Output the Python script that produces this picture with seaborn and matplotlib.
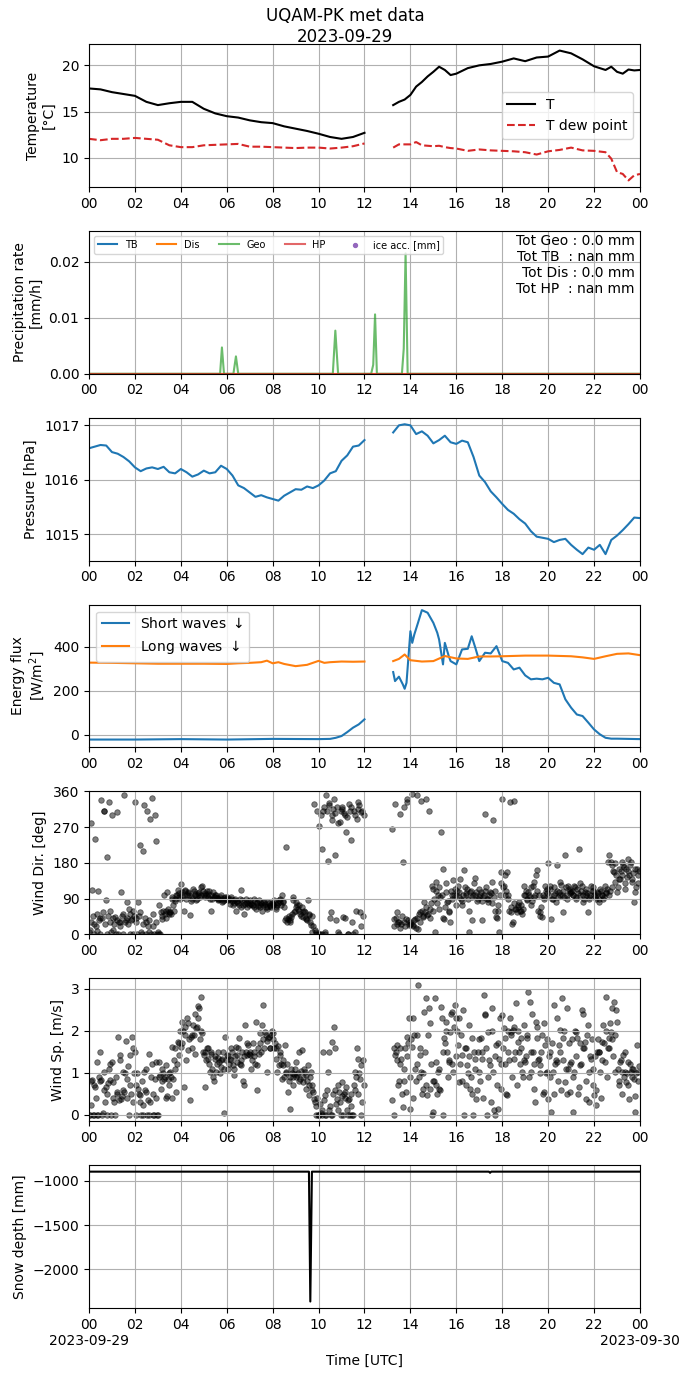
import numpy as np
import pandas as pd
import matplotlib
matplotlib.use('Agg')
import matplotlib.pyplot as plt
import matplotlib.dates as mdates
import seaborn as sns

nan = np.nan
day0 = pd.Timestamp('2023-09-29')
day1 = pd.Timestamp('2023-09-30')

# ---- temperature / dew point (hours UTC) ----
t_am_hours = [0, 0.5, 1, 1.5, 2, 2.5, 3, 3.5, 4, 4.5, 5, 5.5, 6, 6.5, 7, 7.5,
              8, 8.5, 9, 9.5, 10, 10.5, 11, 11.5, 12]
temp_am = [17.5, 17.4, 17.1, 16.9, 16.7, 16.05, 15.7, 15.9, 16.05, 16.05, 15.3,
           14.8, 14.5, 14.35, 14.05, 13.85, 13.75, 13.4, 13.15, 12.9, 12.6,
           12.25, 12.05, 12.25, 12.7]
dew_am = [12.05, 11.9, 12.05, 12.05, 12.15, 12.05, 11.95, 11.35, 11.15, 11.15,
          11.35, 11.4, 11.45, 11.5, 11.2, 11.2, 11.15, 11.1, 11.05, 11.1, 11.1,
          11.0, 11.1, 11.25, 11.55]
t_pm_hours = [13.25, 13.5, 13.75, 14, 14.25, 14.5, 14.75, 15, 15.25, 15.5, 15.75,
              16, 16.5, 17, 17.5, 18, 18.5, 19, 19.5, 20, 20.5, 21, 21.5, 22,
              22.5, 22.75, 23, 23.25, 23.5, 23.75, 24]
temp_pm = [15.7, 16.05, 16.3, 16.8, 17.7, 18.2, 18.8, 19.3, 19.85, 19.5, 18.95,
           19.1, 19.7, 20.0, 20.15, 20.4, 20.75, 20.45, 20.85, 20.95, 21.6, 21.3,
           20.65, 19.9, 19.5, 19.85, 19.3, 19.1, 19.55, 19.45, 19.5]
dew_pm = [11.1, 11.45, 11.45, 11.45, 11.7, 11.35, 11.3, 11.25, 11.3, 11.15, 11.05,
          11.0, 10.75, 10.9, 10.8, 10.75, 10.7, 10.6, 10.35, 10.7, 10.85, 11.1,
          10.8, 10.75, 10.6, 9.9, 8.45, 8.25, 7.55, 8.1, 8.25]

# ---- precipitation rate [mm/h] ----
geo_hours = [0, 5.71, 5.79, 5.88, 6.29, 6.4, 6.5, 10.62, 10.73, 10.85, 12.29,
             12.38, 12.46, 12.54, 13.63, 13.71, 13.79, 13.88, 24]
geo_rate = [0, 0, 0.0047, 0, 0, 0.0031, 0, 0, 0.0077, 0, 0, 0.0016, 0.0106, 0,
            0, 0.0045, 0.0215, 0, 0]
flat_hours = [0, 24]
dis_rate = [0, 0]
hp_rate = [0, 0]
precip_text = "Tot Geo : 0.0 mm\nTot TB  : nan mm\nTot Dis : 0.0 mm\nTot HP  : nan mm"

# ---- pressure [hPa], every 15 min ----
p_am_hours = [0, 0.25, 0.5, 0.75, 1, 1.25, 1.5, 1.75, 2, 2.25, 2.5, 2.75, 3, 3.25,
              3.5, 3.75, 4, 4.25, 4.5, 4.75, 5, 5.25, 5.5, 5.75, 6, 6.25, 6.5,
              6.75, 7, 7.25, 7.5, 7.75, 8, 8.25, 8.5, 8.75, 9, 9.25, 9.5, 9.75,
              10, 10.25, 10.5, 10.75, 11, 11.25, 11.5, 11.75, 12]
pres_am = [1016.58, 1016.61, 1016.64, 1016.63, 1016.51, 1016.48, 1016.42, 1016.34,
           1016.23, 1016.16, 1016.21, 1016.23, 1016.2, 1016.24, 1016.14, 1016.12,
           1016.2, 1016.14, 1016.06, 1016.1, 1016.17, 1016.12, 1016.14, 1016.26,
           1016.2, 1016.08, 1015.9, 1015.85, 1015.77, 1015.69, 1015.72, 1015.68,
           1015.65, 1015.62, 1015.71, 1015.77, 1015.83, 1015.82, 1015.88, 1015.85,
           1015.9, 1015.99, 1016.12, 1016.16, 1016.35, 1016.45, 1016.61, 1016.63,
           1016.73]
p_pm_hours = [13.25, 13.5, 13.75, 14, 14.25, 14.5, 14.75, 15, 15.25, 15.5, 15.75,
              16, 16.25, 16.5, 16.75, 17, 17.25, 17.5, 17.75, 18, 18.25, 18.5,
              18.75, 19, 19.25, 19.5, 19.75, 20, 20.25, 20.5, 20.75, 21, 21.25,
              21.5, 21.75, 22, 22.25, 22.5, 22.75, 23, 23.25, 23.5, 23.75, 24]
pres_pm = [1016.87, 1017.0, 1017.02, 1017.0, 1016.84, 1016.89, 1016.81, 1016.67,
           1016.73, 1016.81, 1016.69, 1016.66, 1016.72, 1016.69, 1016.42, 1016.08,
           1015.96, 1015.79, 1015.68, 1015.56, 1015.45, 1015.38, 1015.28, 1015.2,
           1015.06, 1014.96, 1014.94, 1014.92, 1014.86, 1014.9, 1014.92, 1014.81,
           1014.72, 1014.64, 1014.76, 1014.72, 1014.81, 1014.64, 1014.9, 1014.98,
           1015.08, 1015.19, 1015.31, 1015.3]

# ---- radiation [W/m2] ----
sw_am_hours = [0, 2, 4, 6, 8, 10, 10.5, 10.75, 11, 11.25, 11.5, 11.75, 12]
sw_am = [-22, -22, -20, -22, -19, -20, -19, -14, -6, 12, 32, 47, 70]
sw_pm_hours = [13.25, 13.33, 13.5, 13.67, 13.75, 13.83, 14, 14.08, 14.17, 14.33,
               14.5, 14.75, 15, 15.17, 15.25, 15.42, 15.5, 15.67, 15.75, 16,
               16.25, 16.5, 16.67, 16.83, 17, 17.25, 17.5, 17.75, 18, 18.25,
               18.5, 18.75, 19, 19.25, 19.5, 19.75, 20, 20.25, 20.5, 20.75, 21,
               21.25, 21.5, 21.75, 22, 22.25, 22.5, 22.75, 23, 24]
sw_pm = [285, 244, 264, 229, 209, 236, 471, 418, 456, 509, 567, 555, 509, 464,
         433, 320, 418, 358, 335, 320, 388, 391, 448, 395, 335, 373, 370, 403,
         335, 327, 297, 305, 270, 252, 255, 252, 259, 236, 229, 161, 123, 92,
         85, 55, 24, 2, -14, -18, -18, -20]
lw_am_hours = [0, 1, 2, 3, 4, 5, 6, 6.5, 7, 7.5, 7.75, 8, 8.25, 8.5, 9, 9.5, 10,
               10.25, 10.5, 11, 11.5, 12]
lw_am = [328, 327, 325, 323, 323, 323, 322, 325, 327, 330, 337, 325, 330, 322,
         312, 318, 336, 327, 330, 333, 332, 333]
lw_pm_hours = [13.25, 13.5, 13.75, 14, 14.5, 15, 15.5, 16, 16.5, 17, 17.5, 18, 19,
               20, 21, 21.5, 22, 22.5, 23, 23.5, 24]
lw_pm = [335, 345, 365, 339, 333, 335, 358, 347, 345, 356, 356, 357, 360, 360,
         357, 352, 345, 357, 368, 370, 362]

# ---- wind, one row per hour, one value every 4 min (set a at :00, set b at :02) ----
wdir_rows_a = [
    [5, 280, 111, 25, 239, 8, 108, 40, 338, 55, 312, 86, 195, 333, 60],
    [300, 10, 44, 308, 2, 31, 107, 52, 350, 35, 81, 65, 0, 39, 60],
    [333, 40, 81, 224, 6, 211, 325, 30, 312, 6, 291, 343, 20, 300, 234],
    [6, 73, 56, 39, 98, 60, 107, 52, 56, 94, 73, 90, 98, 111, 105],
    [128, 107, 60, 111, 98, 107, 48, 90, 115, 102, 86, 98, 107, 119, 123],
    [98, 94, 110, 102, 90, 60, 107, 94, 98, 86, 90, 98, 81, 86, 95],
    [94, 86, 77, 90, 73, 86, 60, 81, 73, 111, 86, 52, 77, 70, 85],
    [86, 77, 73, 90, 65, 81, 86, 73, 60, 81, 77, 69, 81, 75, 70],
    [77, 86, 65, 73, 86, 90, 98, 81, 35, 219, 39, 31, 44, 86, 56],
    [81, 73, 60, 52, 69, 44, 56, 39, 86, 48, 23, 6, 329, 6, 312],
    [274, 0, 216, 312, 0, 350, 186, 325, 56, 287, 341, 199, 320, 6, 283],
    [316, 44, 300, 258, 0, 329, 237, 31, 312, 6, 291, 333, 56, 308, 45],
    [nan] * 15,
    [nan, nan, nan, 266, 39, 329, 56, 31, 304, 27, 182, 320, 39, 333, 23],
    [31, 354, 23, 39, 350, 14, 56, 337, 44, 81, 341, 48, 310, 65, 123],
    [115, 6, 132, 98, 65, 258, 164, 39, 107, 81, 56, 31, 98, 138, 115],
    [98, 123, 107, 90, 73, 161, 98, 115, 6, 107, 35, 98, 143, 107, 90],
    [94, 107, 35, 98, 304, 90, 81, 107, 132, 287, 60, 44, 73, 6, 157],
    [341, 123, 149, 157, 98, 333, 56, 31, 337, 65, 73, 81, 60, 52, 123],
    [98, 86, 107, 94, 73, 123, 132, 149, 161, 98, 56, 44, 90, 123, 115],
    [180, 123, 39, 90, 98, 81, 174, 107, 132, 98, 56, 199, 90, 123, 110],
    [107, 98, 123, 90, 115, 214, 98, 123, 81, 107, 98, 56, 90, 123, 110],
    [98, 90, 107, 81, 115, 98, 90, 123, 107, 182, 199, 182, 174, 157, 132],
    [107, 165, 140, 182, 174, 115, 165, 190, 149, 182, 132, 81, 107, 165, 130],
]
wdir_rows_b = [
    [10, 30, 45, 0, 20, 50, 35, 0, 40, 310, 25, 0, 45, 30, 5],
    [40, 25, 0, 35, 30, 20, 45, 0, 30, 40, 25, 50, 35, 0, 45],
    [30, 0, 45, 55, 0, 25, 40, 0, 20, 35, 0, 50, 0, 30, 0],
    [0, 0, 45, 60, 50, 40, 65, 55, 50, 90, 60, 85, 100, 95, 90],
    [100, 95, 110, 90, 105, 100, 85, 95, 110, 100, 90, 105, 95, 100, 110],
    [105, 100, 95, 110, 100, 90, 95, 100, 92, 88, 95, 90, 85, 92, 88],
    [90, 88, 95, 85, 80, 90, 85, 78, 88, 70, 75, 82, 90, 80, 75],
    [80, 75, 70, 85, 78, 72, 68, 80, 75, 82, 70, 65, 78, 72, 80],
    [75, 80, 70, 78, 82, 75, 85, 70, 40, 30, 45, 35, 50, 95, 60],
    [70, 65, 75, 45, 55, 60, 40, 35, 50, 30, 45, 20, 10, 0, 0],
    [0, 300, 0, 320, 5, 310, 330, 40, 300, 315, 305, 35, 280, 0, 310],
    [320, 305, 40, 295, 0, 310, 320, 0, 300, 60, 315, 325, 20, 310, 300],
    [nan] * 15,
    [nan, nan, nan, nan, 20, 40, 25, 30, 15, 45, 30, 20, 340, 35, 25],
    [25, 20, 35, 15, 40, 50, 30, 60, 45, 55, 70, 50, 40, 80, 60],
    [90, 110, 80, 120, 95, 100, 40, 70, 130, 85, 60, 110, 90, 100, 75],
    [110, 95, 140, 85, 100, 120, 105, 90, 60, 110, 95, 130, 100, 85, 115],
    [100, 85, 95, 110, 120, 90, 100, 105, 80, 95, 110, 40, 60, 100, 130],
    [120, 100, 110, 90, 60, 70, 25, 80, 65, 55, 70, 60, 75, 65, 100],
    [110, 90, 100, 120, 85, 95, 100, 110, 60, 45, 70, 100, 95, 110, 105],
    [100, 115, 90, 120, 105, 110, 95, 100, 125, 110, 95, 120, 100, 115, 105],
    [110, 100, 120, 95, 105, 130, 110, 100, 90, 115, 105, 95, 100, 110, 120],
    [95, 100, 105, 90, 110, 100, 95, 105, 115, 100, 110, 120, 160, 180, 150],
    [120, 140, 160, 150, 170, 130, 145, 160, 175, 140, 155, 165, 120, 150, 160],
]
wspd_rows_a = [
    [0, 0.22, 0.82, 0, 0.66, 1.26, 0, 1.5, 0.82, 0.05, 1.02, 0.66, 0.5, 1.1, 0.82],
    [1.26, 0.78, 0, 0.54, 1.86, 1.42, 0.38, 1.02, 0.54, 1.76, 0.86, 0, 1.42, 1.86, 1.58],
    [1.5, 0, 0.62, 0.46, 0, 0.22, 1.02, 0.54, 0, 1.46, 0.3, 1.22, 0, 0.86, 1.26],
    [0, 1.26, 0.62, 1.1, 0.86, 1.18, 0.45, 0.7, 1.02, 1.62, 0.86, 1.1, 0.54, 1.74, 1.42],
    [1.62, 2.22, 0.66, 2.1, 2.3, 1.54, 0.34, 1.9, 2.14, 1.46, 2.06, 2.3, 2.54, 2.82, 1.94],
    [1.42, 0.66, 1.58, 1.34, 1.02, 1.5, 0.9, 1.34, 1.02, 1.5, 1.26, 1.14, 1.34, 0.05, 1.86],
    [1.42, 1.1, 1.34, 1.58, 1.18, 0.94, 1.62, 1.42, 1.82, 1.18, 1.5, 0.7, 2.14, 1.42, 1.66],
    [1.42, 1.1, 1.7, 1.5, 2.22, 1.18, 1.46, 1.94, 2.14, 2.62, 1.98, 1.02, 1.82, 1.58, 1.9],
    [1.94, 1.58, 1.34, 1.02, 1.18, 1.42, 0.86, 1.18, 1.66, 1.02, 0.54, 0.13, 1.1, 0.7, 0.98],
    [1.26, 0.94, 1.5, 0.86, 1.54, 0.78, 1.02, 0.62, 1.18, 0.46, 1.02, 0.7, 0.38, 0, 0.4],
    [0, 0.26, 0, 1.5, 0.46, 0, 1.02, 1.5, 0, 1.74, 2.1, 1.58, 0.38, 0.7, 0.3],
    [0.78, 0, 0.54, 0.66, 0, 0.38, 0.5, 0, 0.7, 1.02, 1.58, 1.34, 0.86, 1.18, 1.3],
    [nan] * 15,
    [nan, nan, nan, 0.34, 0, 1.42, 1.66, 0.7, 1.58, 1.34, 0.18, 1.1, 0.54, 1.86, 2.3],
    [0.14, 1.62, 2.3, 1.1, 1.9, 3.1, 1.42, 1.02, 0.62, 2.46, 2.78, 0.46, 2.54, 0.62, 0],
    [0.06, 2.78, 1.26, 1.02, 0.62, 2.58, 0, 1.82, 2.22, 1.5, 1.26, 1.98, 2.46, 1.02, 2.62],
    [2.3, 1.66, 0.78, 1.9, 1.42, 0, 1.58, 1.18, 2.14, 0.62, 1.82, 0, 1.34, 0.38, 1.5],
    [1.02, 1.82, 1.34, 2.86, 2.38, 0, 1.98, 1.18, 2.54, 1.02, 0, 1.66, 0.14, 1.34, 0.62],
    [2.38, 2.06, 1.82, 0.46, 1.5, 2.3, 1.98, 2.02, 1.34, 2.66, 1.74, 1.5, 1.82, 1.02, 2.14],
    [1.26, 1.82, 2.94, 2.7, 1.02, 1.5, 0.62, 2.22, 1.82, 1.34, 1.18, 1.9, 0.54, 1.66, 1.02],
    [0.38, 1.5, 0.06, 1.02, 2.62, 1.3, 1.26, 1.66, 2.02, 2.78, 1.82, 0.78, 2.54, 1.1, 0.54],
    [1.26, 0.06, 1.02, 1.98, 1.82, 0.66, 1.18, 2.5, 1.58, 1.74, 0.38, 2.14, 1.02, 1.34, 0.7],
    [0.46, 0.22, 1.5, 1.5, 1.02, 1.74, 2.14, 1.26, 2.82, 1.58, 1.82, 1.98, 2.54, 2.7, 1.02],
    [2.22, 0.7, 1.26, 1.02, 1.42, 1.02, 0.78, 1.26, 0.38, 1.02, 1.1, 0.86, 0.06, 1.66, 1.02],
]
wspd_rows_b = [
    [0, 0.8, 0, 0.7, 0.4, 0, 0.9, 0.8, 0, 0.6, 0.3, 0, 0.75, 1.2, 0],
    [0.4, 0.3, 0.9, 0.5, 0.35, 1.3, 0.45, 0.6, 1.0, 0.4, 1.15, 0.7, 0.5, 0.3, 1.0],
    [0.7, 1.0, 0.5, 0.3, 0.8, 0, 0.6, 1.1, 0.35, 0, 0.9, 0.5, 0, 0.4, 0],
    [0.9, 0.95, 0.8, 1.0, 0.9, 0.4, 0.85, 1.0, 0.9, 0.4, 1.3, 1.6, 1.2, 1.7, 2.0],
    [1.7, 2.0, 1.9, 1.3, 2.2, 1.8, 1.85, 1.6, 1.9, 2.4, 2.1, 2.6, 1.8, 2.0, 1.5],
    [1.5, 1.3, 1.6, 1.2, 1.45, 1.1, 0.8, 1.4, 1.2, 1.35, 1.0, 1.3, 1.5, 1.1, 1.3],
    [1.4, 1.2, 1.3, 1.5, 1.1, 1.4, 1.25, 1.6, 1.2, 1.3, 0.8, 1.4, 1.5, 1.7, 1.45],
    [1.5, 1.3, 1.4, 1.2, 0.6, 1.6, 1.7, 1.5, 1.8, 1.6, 1.9, 1.75, 1.85, 1.6, 2.0],
    [1.8, 1.7, 1.6, 1.65, 1.5, 1.2, 1.3, 0.9, 1.0, 1.2, 0.8, 0.9, 1.0, 0.9, 1.1],
    [0.9, 1.0, 0.8, 1.05, 0.9, 1.1, 0.95, 0.8, 0.7, 0.9, 0.6, 0.55, 0.3, 0.2, 0],
    [0, 0.05, 0.1, 0.35, 0, 0.6, 0.1, 0.2, 0, 0.5, 0.6, 0.25, 0.1, 0.55, 0],
    [0.45, 0.5, 0.4, 0.1, 0.35, 0, 0.2, 0, 0.6, 0.9, 0.5, 1.0, 0, 0.3, 0.7],
    [nan] * 15,
    [nan, nan, nan, nan, 1.6, 1.5, 1.3, 0.8, 1.2, 0.5, 0.8, 1.6, 1.4, 1.7, 0.9],
    [1.8, 0.4, 1.9, 0.8, 1.2, 0.9, 1.6, 0.5, 1.0, 1.5, 0.7, 1.9, 2.2, 1.2, 0.8],
    [0.8, 0.7, 0.5, 1.1, 0.6, 2.3, 1.5, 1.7, 2.0, 0.9, 1.3, 2.4, 1.2, 2.1, 1.4],
    [2.0, 2.3, 1.2, 0.8, 2.5, 1.6, 0.7, 1.0, 1.4, 0.9, 0.5, 1.5, 1.1, 0.6, 1.8],
    [0.8, 1.5, 0.4, 2.4, 1.6, 0.9, 1.3, 0.3, 2.0, 0.1, 1.4, 0.7, 1.7, 2.3, 1.2],
    [1.6, 1.2, 0.5, 2.0, 1.3, 1.9, 0.9, 2.1, 1.5, 0.7, 2.0, 1.2, 1.6, 0.9, 1.3],
    [1.4, 1.9, 0.9, 1.5, 2.4, 1.2, 0.3, 2.1, 1.3, 1.0, 1.5, 0.5, 2.2, 1.0, 1.8],
    [1.4, 0.9, 1.7, 0.5, 1.2, 2.3, 0.8, 1.5, 0.6, 1.3, 2.0, 1.1, 0.5, 1.7, 1.2],
    [1.8, 0.9, 2.0, 1.4, 0.5, 1.7, 1.2, 2.4, 1.6, 0.8, 1.9, 0.3, 1.4, 1.8, 1.1],
    [1.4, 0.6, 1.8, 1.5, 0.4, 1.3, 1.7, 2.0, 0.9, 1.6, 2.2, 1.8, 1.4, 1.9, 2.5],
    [1.1, 0.8, 1.3, 0.5, 0.9, 1.5, 1.0, 0.7, 1.2, 0.9, 1.1, 0.45, 1.0, 0.8, 1.15],
]

# ---- snow depth [mm] ----
snow_hours = [0, 9.58, 9.64, 9.71, 17.42, 17.47, 17.52, 24]
snow_mm = [-895, -895, -2365, -895, -895, -908, -895, -895]


def to_time(hours):
    return day0 + pd.to_timedelta(np.asarray(hours, dtype=float), unit='h')


def draw_line(ax, hours, values, **kw):
    sns.lineplot(x=to_time(hours), y=values, ax=ax, estimator=None,
                 errorbar=None, **kw)


def rows_to_points(rows_list):
    # each row holds one hour, sampled every 4 min; set k is shifted by 2*k min
    hrs, vals = [], []
    for shift, rows in enumerate(rows_list):
        for h, row in enumerate(rows):
            for k, v in enumerate(row):
                hrs.append(h + (k * 4 + shift * 2) / 60)
                vals.append(v)
    return to_time(hrs), np.array(vals, dtype=float)


fig, axes = plt.subplots(7, 1, figsize=(6.9, 13.77), dpi=100)
fig.subplots_adjust(left=0.129, right=0.9275, top=0.968, bottom=0.0501, hspace=0.308)
fig.suptitle("UQAM-PK met data\n2023-09-29", fontsize=12, y=0.995)

# Temperature
ax = axes[0]
draw_line(ax, t_am_hours, temp_am, color='k', label='T')
draw_line(ax, t_pm_hours, temp_pm, color='k')
draw_line(ax, t_am_hours, dew_am, color='tab:red', linestyle='--', label='T dew point')
draw_line(ax, t_pm_hours, dew_pm, color='tab:red', linestyle='--')
ax.set_ylabel("Temperature\n[°C]")
ax.legend(loc='center right')

# Precipitation
ax = axes[1]
ax.plot([], [], color='tab:blue', label='TB')
draw_line(ax, flat_hours, dis_rate, color='tab:orange', label='Dis')
draw_line(ax, geo_hours, geo_rate, color='tab:green', alpha=0.7, label='Geo')
draw_line(ax, flat_hours, hp_rate, color='tab:red', alpha=0.7, label='HP')
ax.scatter([], [], s=8, color='tab:purple', label='ice acc. [mm]')
ax.set_ylim(0, 0.0255)
ax.set_yticks([0, 0.01, 0.02])
ax.set_ylabel("Precipitation rate\n[mm/h]")
ax.legend(loc='upper left', ncol=5, fontsize=7)
ax.text(0.99, 0.98, precip_text, transform=ax.transAxes, ha='right', va='top',
        multialignment='right', fontsize=10)

# Pressure
ax = axes[2]
draw_line(ax, p_am_hours, pres_am, color='tab:blue')
draw_line(ax, p_pm_hours, pres_pm, color='tab:blue')
ax.set_yticks([1015, 1016, 1017])
ax.ticklabel_format(axis='y', useOffset=False)
ax.set_ylabel("Pressure [hPa]")

# Radiation
ax = axes[3]
draw_line(ax, sw_am_hours, sw_am, color='tab:blue', label='Short waves $\\downarrow$')
draw_line(ax, sw_pm_hours, sw_pm, color='tab:blue')
draw_line(ax, lw_am_hours, lw_am, color='tab:orange', label='Long waves $\\downarrow$')
draw_line(ax, lw_pm_hours, lw_pm, color='tab:orange')
ax.set_ylim(-58, 592)
ax.set_yticks([0, 200, 400])
ax.set_ylabel("Energy flux\n[W/m$^2$]")
ax.legend(loc='upper left')

# Wind direction
ax = axes[4]
wt, wd = rows_to_points([wdir_rows_a, wdir_rows_b])
sns.scatterplot(x=wt, y=wd, ax=ax, color='k', alpha=0.5, s=16, edgecolor='k',
                linewidth=0.6)
ax.set_ylim(0, 360)
ax.set_yticks([0, 90, 180, 270, 360])
ax.set_ylabel("Wind Dir. [deg]")

# Wind speed
ax = axes[5]
st, sp = rows_to_points([wspd_rows_a, wspd_rows_b])
sns.scatterplot(x=st, y=sp, ax=ax, color='k', alpha=0.5, s=16, edgecolor='k',
                linewidth=0.6)
ax.set_yticks([0, 1, 2, 3])
ax.set_ylabel("Wind Sp. [m/s]")

# Snow depth
ax = axes[6]
draw_line(ax, snow_hours, snow_mm, color='k')
ax.set_yticks([-1000, -1500, -2000])
ax.set_ylabel("Snow depth [mm]")
ax.set_xlabel("Time [UTC]")


def bottom_fmt(v, pos=None):
    d = mdates.num2date(v)
    if d.hour == 0:
        return d.strftime('%H') + '\n' + d.strftime('%Y-%m-%d')
    return d.strftime('%H')


for i, ax in enumerate(axes):
    ax.set_xlim(day0, day1)
    ax.xaxis.set_major_locator(mdates.HourLocator(byhour=range(0, 24, 2)))
    if i == len(axes) - 1:
        ax.xaxis.set_major_formatter(plt.FuncFormatter(bottom_fmt))
    else:
        ax.xaxis.set_major_formatter(mdates.DateFormatter('%H'))
        ax.set_xlabel('')
    ax.grid(True)

fig.savefig('out.png', dpi=100)
